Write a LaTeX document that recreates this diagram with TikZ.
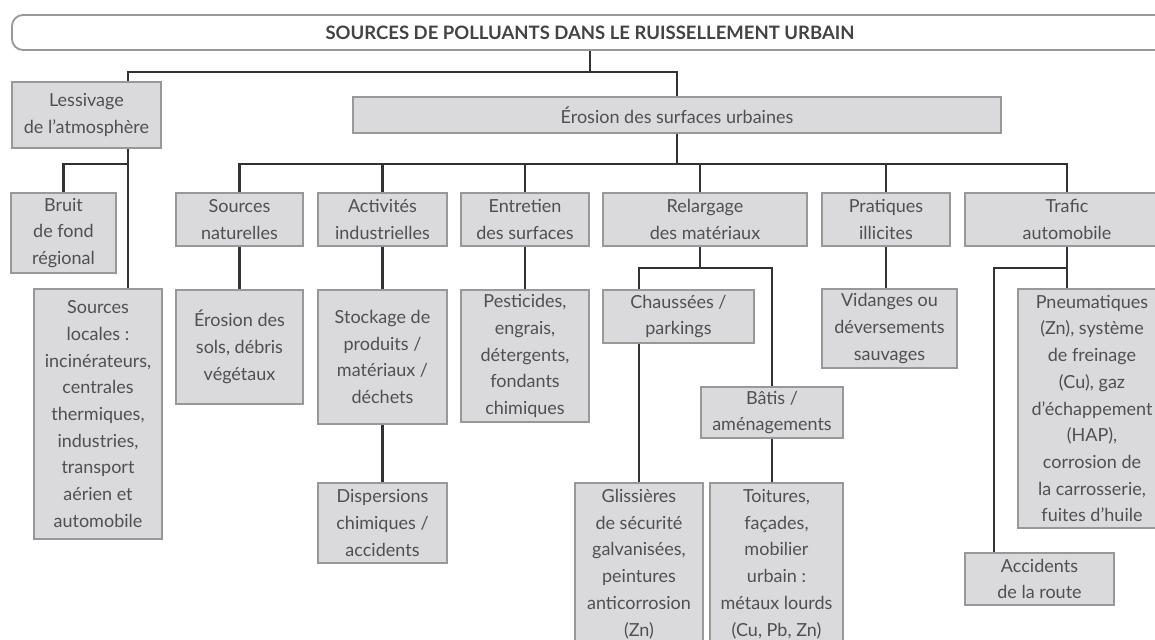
\documentclass[tikz,border=0pt]{standalone}
\usepackage{fontspec}
\setmainfont{Lato}
\definecolor{boxfill}{RGB}{218,218,220}
\definecolor{boxline}{RGB}{152,152,154}
\definecolor{txt}{RGB}{80,80,82}
\definecolor{wire}{RGB}{50,50,52}
\definecolor{ttl}{RGB}{68,68,70}
\tikzset{
  box/.style={draw=boxline, fill=boxfill, line width=1.8pt, text=txt,
    align=center, inner sep=0pt, font=\fontsize{18}{26.7}\selectfont},
  headbox/.style={draw=boxline, fill=white, line width=1.8pt, rounded corners=11pt,
    inner sep=0pt, text=ttl, font=\fontsize{18.5}{22}\bfseries\selectfont},
  wirel/.style={draw=wire, line width=2.2pt},
}
\newcommand{\bx}[6]{\node[box, minimum width=#4pt, minimum height=#5pt] (#1) at (#2,#3) {#6};}
\begin{document}
\begin{tikzpicture}[x=1pt,y=-1pt]
\useasboundingbox (0,0) rectangle (1155,639);
\clip (0,0) rectangle (1155,639);

% title bar
\node[headbox, minimum width=1156pt, minimum height=35pt] (title) at (590,32.5)
  {SOURCES DE POLLUANTS DANS LE RUISSELLEMENT URBAIN};

% boxes
\bx{lessiv}{86.5}{115}{149}{66}{Lessivage\\de l’atmosphère}
\bx{eros}{677}{115}{648}{36}{Érosion des surfaces urbaines}
\bx{bruit}{63.5}{233}{105}{80}{Bruit\\de fond\\régional}
\bx{srcloc}{98}{414}{128}{250}{Sources\\locales :\\incinérateurs,\\centrales\\thermiques,\\industries,\\transport\\aérien et\\automobile}
\bx{srcnat}{239.5}{219.5}{127}{53}{Sources\\naturelles}
\bx{erosol}{239.5}{347}{127}{114}{Érosion des\\sols, débris\\végétaux}
\bx{activ}{382.5}{219.5}{129}{53}{Activités\\industrielles}
\bx{stock}{382.5}{357}{129}{134}{Stockage de\\produits /\\matériaux /\\déchets}
\bx{disp}{382.5}{523}{129}{80}{Dispersions\\chimiques /\\accidents}
\bx{entret}{525}{219.5}{128}{53}{Entretien\\des surfaces}
\bx{pest}{525}{356}{128}{132}{Pesticides,\\engrais,\\détergents,\\fondants\\chimiques}
\bx{relarg}{705}{219.5}{204}{53}{Relargage\\des matériaux}
\bx{chauss}{678.5}{316.5}{151}{53}{Chaussées /\\parkings}
\bx{batis}{772}{412.5}{142}{51}{Bâtis /\\aménagements}
\bx{gliss}{639}{564}{128}{162}{Glissières\\de sécurité\\galvanisées,\\peintures\\anticorrosion\\(Zn)}
\bx{toit}{776.5}{564}{133}{162}{Toitures,\\façades,\\mobilier\\urbain :\\métaux lourds\\(Cu, Pb, Zn)}
\bx{prat}{886}{219.5}{128}{53}{Pratiques\\illicites}
\bx{vidang}{889.5}{328.5}{135}{79}{Vidanges ou\\déversements\\sauvages}
\bx{trafic}{1067}{219.5}{204}{53}{Trafic\\automobile}
\bx{pneu}{1092}{408.5}{148}{239}{Pneumatiques\\(Zn), système\\de freinage\\(Cu), gaz\\d’échappement\\(HAP),\\corrosion de\\la carrosserie,\\fuites d’huile}
\bx{accid}{1039.5}{579}{149}{52}{Accidents\\de la route}

% rails and stem positions
\coordinate (bar0) at (0,72);
\coordinate (bar1) at (0,164);
\coordinate (bar2) at (0,268);
\coordinate (lx) at (128,0);
\coordinate (rx) at (700,0);
\coordinate (cx) at (639,0);
\coordinate (ax) at (994,0);

% top level
\draw[wirel] (title.south) -- (title.south |- bar0);
\draw[wirel] (lx |- lessiv.north) |- (eros.north |- bar0) -- (eros.north);

% atmospheric washout
\draw[wirel] (lx |- lessiv.south) -- (lx |- srcloc.north);
\draw[wirel] (lx |- bar1) -| (bruit.north);

% urban surface erosion
\draw[wirel] (eros.south) -- (eros.south |- bar1);
\draw[wirel] (srcnat.north) |- (trafic.north |- bar1) -- (trafic.north);
\draw[wirel] (activ.north) -- (activ.north |- bar1);
\draw[wirel] (entret.north) -- (entret.north |- bar1);
\draw[wirel] (rx |- relarg.north) -- (rx |- bar1);
\draw[wirel] (prat.north) -- (prat.north |- bar1);

% second level
\draw[wirel] (srcnat.south) -- (erosol.north);
\draw[wirel] (activ.south) -- (stock.north);
\draw[wirel] (stock.south) -- (disp.north);
\draw[wirel] (entret.south) -- (pest.north);
\draw[wirel] (rx |- relarg.south) -- (rx |- bar2);
\draw[wirel] (cx |- chauss.north) |- (batis.north |- bar2) -- (batis.north);
\draw[wirel] (cx |- chauss.south) -- (gliss.north);
\draw[wirel] (batis.south) -- (batis.south |- toit.north);
\draw[wirel] (prat.south) -- (prat.south |- vidang.north);
\draw[wirel] (trafic.south) -- (trafic.south |- pneu.north);
\draw[wirel] (trafic.south |- bar2) -| (ax |- accid.north);
\end{tikzpicture}
\end{document}
